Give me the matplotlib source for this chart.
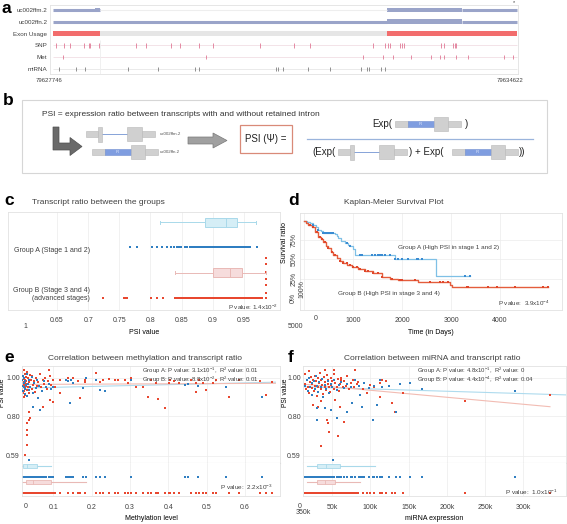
import numpy as np
import matplotlib.pyplot as plt
from matplotlib.patches import Rectangle, Polygon

plt.rcParams['font.family'] = ['Liberation Sans', 'DejaVu Sans']
plt.rcParams['mathtext.fontset'] = 'custom'
plt.rcParams['mathtext.rm'] = 'Liberation Sans'
plt.rcParams['text.color'] = '#404040'
plt.rcParams['xtick.color'] = '#404040'
plt.rcParams['ytick.color'] = '#404040'

W, H = 567, 524

# ---------------- panel a: gene tracks ----------------
gene_start = 79627746
gene_end = 79634622
track_labels = ['uc002ffm.2', 'uc002ffn.2', 'Exon Usage', 'SNP', 'Met', 'miRNA']
exon1 = (0, 697)
exon1_cds = (622, 697)
exon2_cds = (4950, 6061)
exon2 = (4950, 6876)
snp_pos = [44, 163, 252, 459, 534, 548, 682, 1230, 1378, 1749, 1882, 2164, 2371, 3068,
           3572, 3809, 4742, 4920, 4965, 4994, 5143, 5172, 5202, 5750, 5795, 5928, 5958, 5972]
met_pos = [148, 2267, 4594, 4891, 5039, 5306, 5602, 5735, 5795, 5972, 6150, 6684, 6818]
mirna_pos = [89, 341, 474, 1112, 1556, 2104, 2164, 3305, 3335, 3409, 3779, 4105, 4565,
             4653, 4683, 4861, 4920]

# ---------------- panel c: PSI by group ----------------
grpA_psi = [0.767, 0.778, 0.803, 0.811, 0.818, 0.826, 0.833, 0.838, 0.842, 0.846, 0.849,
            0.856, 0.859, 0.863, 0.866, 0.868, 0.872, 0.874, 0.877, 0.879, 0.881, 0.884,
            0.886, 0.888, 0.889, 0.891, 0.893, 0.895, 0.896, 0.898, 0.900, 0.901, 0.903,
            0.905, 0.906, 0.908, 0.909, 0.911, 0.913, 0.914, 0.916, 0.917, 0.919, 0.921,
            0.922, 0.924, 0.925, 0.927, 0.929, 0.930, 0.932, 0.934, 0.935, 0.937, 0.939,
            0.941, 0.943, 0.945, 0.948, 0.950, 0.953, 0.956, 0.959, 0.971]
grpB_psi = [0.724, 0.757, 0.760, 0.763, 0.801, 0.811, 0.820, 0.839, 0.842, 0.846, 0.849,
            0.852, 0.855, 0.858, 0.861, 0.864, 0.866, 0.869, 0.872, 0.875, 0.877, 0.879,
            0.882, 0.885, 0.887, 0.889, 0.891, 0.894, 0.896, 0.898, 0.900, 0.902, 0.904,
            0.906, 0.908, 0.910, 0.912, 0.914, 0.916, 0.918, 0.920, 0.922, 0.924, 0.926,
            0.928, 0.930, 0.932, 0.934, 0.936, 0.938, 0.940, 0.942, 0.944, 0.946, 0.948,
            0.951, 0.954, 0.957, 0.960, 0.963, 0.966, 0.969, 0.972, 0.975, 0.979, 0.985]
grpB_cap_y = [0.0, 0.2, 0.5, 0.75, 1.05, 1.35, 1.6]
boxA = dict(whislo=0.815, q1=0.887, med=0.921, q3=0.939, whishi=0.969)
boxB = dict(whislo=0.839, q1=0.900, med=0.927, q3=0.947, whishi=0.985)

# ---------------- panel d: Kaplan-Meier ----------------
kmA_t = [0, 60, 120, 190, 240, 292, 340, 395, 520, 633, 670, 701, 760, 837, 900, 939,
         990, 1041, 1857, 2687, 3388]
kmA_s = [1.0, 0.985, 0.97, 0.948, 0.92, 0.88, 0.865, 0.85, 0.845, 0.83, 0.80, 0.775,
         0.74, 0.71, 0.69, 0.675, 0.63, 0.56, 0.506, 0.286, 0.286]
kmA_cens = [190, 292, 395, 429, 463, 497, 531, 565, 599, 871, 939, 1143, 1190, 1381,
            1449, 1517, 1551, 1585, 1653, 1755, 1857, 1925, 1993, 2129, 2299, 2333,
            2401, 3286, 3388]
kmB_t = [0, 40, 80, 156, 220, 292, 340, 395, 450, 497, 550, 599, 667, 730, 803, 880,
         973, 1100, 1245, 1400, 1585, 1750, 1925, 2333, 2980, 3014, 4986]
kmB_s = [1.0, 0.97, 0.95, 0.926, 0.86, 0.796, 0.76, 0.73, 0.68, 0.645, 0.60, 0.558,
         0.515, 0.48, 0.45, 0.425, 0.407, 0.38, 0.355, 0.32, 0.277, 0.25, 0.234, 0.212,
         0.169, 0.139, 0.139]
kmB_cens = [122, 190, 258, 327, 361, 429, 497, 565, 633, 735, 803, 871, 939, 1007,
            1075, 1143, 1245, 1313, 1415, 1517, 1585, 1789, 1959, 1993, 2265, 2571,
            2776, 2844, 2946, 3320, 3354, 3762, 3932, 4306, 4884, 4986]

# ---------------- panel e: methylation vs PSI ----------------
eA_meth = [0.018, 0.019, 0.020, 0.021, 0.022, 0.023, 0.024, 0.025, 0.026, 0.027, 0.029,
           0.030, 0.031, 0.033, 0.035, 0.037, 0.040, 0.043, 0.046, 0.050, 0.054, 0.058,
           0.063, 0.069, 0.075, 0.082, 0.088, 0.094, 0.047, 0.060, 0.065, 0.100, 0.134,
           0.139, 0.143, 0.147, 0.152, 0.178, 0.186, 0.212, 0.221, 0.234, 0.304, 0.443,
           0.451, 0.477, 0.551, 0.646, 0.035]
eA_psi = [0.99, 0.96, 1.01, 0.93, 0.975, 0.95, 1.00, 0.915, 0.985, 0.94, 0.965, 1.02,
          0.905, 0.97, 0.99, 0.935, 0.955, 1.005, 0.92, 0.975, 0.945, 0.99, 0.96, 0.93,
          0.985, 0.95, 0.97, 0.94, 0.849, 0.893, 0.832, 0.954, 0.989, 0.985, 0.866, 0.99,
          0.975, 0.946, 0.998, 0.99, 0.937, 0.932, 0.989, 0.963, 0.97, 0.96, 0.954, 0.902,
          0.568]
eB_meth = [0.018, 0.018, 0.019, 0.019, 0.020, 0.020, 0.021, 0.021, 0.022, 0.022, 0.023,
           0.023, 0.024, 0.024, 0.025, 0.025, 0.026, 0.026, 0.027, 0.028, 0.028, 0.029,
           0.030, 0.031, 0.032, 0.033, 0.034, 0.035, 0.036, 0.038, 0.039, 0.041, 0.043,
           0.045, 0.047, 0.050, 0.052, 0.055, 0.058, 0.061, 0.065, 0.068, 0.072, 0.075,
           0.079, 0.083, 0.087, 0.091, 0.095, 0.100, 0.105,
           0.035, 0.038, 0.035, 0.030, 0.030, 0.032, 0.032, 0.026, 0.073, 0.091, 0.100,
           0.117, 0.169,
           0.089, 0.212, 0.117, 0.139, 0.182, 0.182, 0.221, 0.230, 0.260, 0.286, 0.304,
           0.317, 0.334, 0.347, 0.369, 0.373, 0.392, 0.403, 0.429, 0.460, 0.473, 0.473,
           0.490, 0.499, 0.516, 0.560, 0.655,
           0.150, 0.165, 0.245, 0.270, 0.295, 0.355, 0.405, 0.415, 0.480, 0.525, 0.585,
           0.640, 0.670]
eB_psi = [0.97, 1.03, 0.94, 0.99, 0.92, 1.01, 0.96, 0.98, 1.04, 0.95, 0.90, 0.995, 0.965,
          0.93, 1.02, 0.975, 0.945, 0.99, 0.91, 1.005, 0.96, 0.985, 0.935, 1.03, 0.97,
          0.95, 1.00, 0.92, 0.98, 1.015, 0.955, 0.99, 0.94, 1.01, 0.965, 0.985, 0.925,
          1.00, 0.96, 0.98, 1.02, 0.95, 0.99, 0.97, 1.00, 0.94, 0.985, 1.01, 0.965, 0.99,
          0.955,
          0.823, 0.788, 0.779, 0.761, 0.726, 0.700, 0.647, 0.595, 0.849, 0.884, 0.875,
          0.919, 0.893,
          1.042, 1.025, 0.989, 0.998, 0.989, 0.981, 0.981, 0.989, 0.989, 0.989, 0.998,
          0.954, 0.954, 0.902, 0.972, 0.888, 0.840, 0.972, 0.972, 0.989, 0.972, 0.928,
          0.972, 0.937, 0.972, 0.902, 0.911,
          1.0, 0.985, 0.995, 0.99, 0.975, 0.99, 0.99, 0.985, 0.99, 0.99, 0.99, 0.985, 0.98]
eA_fit_x, eA_fit_y = [0.018, 0.68], [0.947, 0.978]
eB_fit_x, eB_fit_y = [0.018, 0.68], [0.966, 0.972]
eA_box = dict(whislo=0.019, q1=0.021, med=0.030, q3=0.056, whishi=0.095)
eB_box = dict(whislo=0.019, q1=0.028, med=0.048, q3=0.095, whishi=0.185)

# ---------------- panel f: miRNA vs PSI ----------------
fA_mirna = [15, 17, 18, 20, 21, 23, 24, 26, 27, 29, 30, 32, 33, 35, 37, 38, 40, 42, 44,
            46, 48, 50, 53, 56, 59, 62, 66, 70, 75, 80, 85, 92, 98, 105,
            152, 167, 139, 104, 134, 108, 89, 69, 76, 86, 51, 30, 41, 49, 56, 30, 289,
            115, 125, 112]
fA_psi = [0.96, 0.99, 0.93, 1.00, 0.95, 0.975, 0.91, 0.985, 0.94, 1.01, 0.96, 0.925,
          0.98, 0.95, 0.995, 0.90, 0.965, 0.94, 0.985, 0.92, 0.97, 0.95, 0.99, 0.935,
          0.965, 0.98, 0.945, 0.97, 0.955, 0.99, 0.96, 0.975, 0.945, 0.96,
          0.972, 0.942, 0.967, 0.779, 0.823, 0.858, 0.849, 0.823, 0.866, 0.911, 0.568,
          0.840, 0.840, 0.832, 0.788, 0.779, 0.93, 0.95, 0.96, 0.99]
fB_mirna = [14, 15, 16, 17, 18, 19, 20, 21, 22, 23, 24, 25, 26, 27, 28, 29, 30, 31, 32,
            33, 34, 35, 36, 37, 38, 39, 40, 41, 42, 43, 44, 45, 46, 47, 48, 49, 50, 52,
            53, 54, 56, 57, 59, 60, 62, 64, 66, 68, 70, 72, 74, 77, 79, 82,
            41, 53, 80, 62, 84, 100, 113, 115, 143, 113, 128, 132, 224, 335, 43, 45, 65,
            46, 58, 36, 32, 54, 25, 35, 60, 90, 95, 105, 120]
fB_psi = [0.97, 1.02, 0.94, 0.99, 0.955, 1.035, 0.92, 0.98, 1.005, 0.945, 0.97, 0.99,
          0.93, 1.01, 0.96, 0.985, 0.905, 1.00, 0.95, 0.975, 1.025, 0.94, 0.99, 0.965,
          0.915, 1.005, 0.955, 0.98, 0.935, 1.015, 0.97, 0.99, 0.95, 0.925, 1.00, 0.965,
          0.985, 0.94, 1.02, 0.975, 0.955, 0.995, 0.93, 0.97, 1.00, 0.95, 0.985, 0.96,
          1.01, 0.94, 0.975, 0.99, 0.955, 0.97,
          1.042, 1.042, 1.042, 0.989, 0.981, 0.963, 0.972, 0.989, 0.919, 0.902, 0.866,
          0.823, 0.879, 0.911, 0.779, 0.761, 0.770, 0.717, 0.695, 0.642, 0.849, 0.884,
          0.86, 0.88, 0.85, 0.94, 0.92, 0.955, 0.985]
fA_fit_x, fA_fit_y = [14, 357], [0.953, 0.911]
fB_fit_x, fB_fit_y = [14, 335], [0.967, 0.849]
fA_box = dict(whislo=16.6, q1=29.7, med=42.0, q3=60.2, whishi=106.0)
fB_box = dict(whislo=16.6, q1=29.7, med=40.0, q3=53.7, whishi=86.4)

BLUE = '#2f7ec1'
RED = '#e8472f'
BLUE_BOX = ('#d5eef6', '#a9d9ea')
RED_BOX = ('#f6dcdc', '#e9b9b6')
GRID = '#ececec'
EDGE = '#e2e2e2'


def box(x0, y0, x1, y1):
    return [x0 / W, 1 - y1 / H, (x1 - x0) / W, (y1 - y0) / H]


fig = plt.figure(figsize=(W / 100, H / 100), dpi=100)
fig.patch.set_facecolor('white')


def light_frame(ax):
    for s in ax.spines.values():
        s.set_color(EDGE)
        s.set_linewidth(0.6)


# ---------------- panel a ----------------
ax_a = fig.add_axes(box(50, 5, 518, 74))
span = gene_end - gene_start
bp = span / (517 - 53)
ax_a.set_xlim(-3 * bp, span + 1 * bp)
ax_a.set_ylim(-0.42, 5.42)
light_frame(ax_a)
ax_a.set_xticks([])
ax_a.set_yticks([5, 4, 3, 2, 1, 0])
ax_a.set_yticklabels(track_labels, fontsize=4.5)
ax_a.tick_params(axis='y', length=0, pad=2)
tx = '#9aa4c9'
# uc002ffm.2
ax_a.hlines(5, 0, exon1[1], color=tx, lw=2.2)
ax_a.hlines(5, exon1[1], exon2[0], color='#eeeeee', lw=0.8)
ax_a.broken_barh([(exon1_cds[0], exon1_cds[1] - exon1_cds[0]),
                  (exon2_cds[0], exon2_cds[1] - exon2_cds[0])], (4.8, 0.4), facecolors=tx)
ax_a.hlines(5, exon2_cds[1], gene_end - gene_start, color=tx, lw=2.2)
# uc002ffn.2
ax_a.hlines(4, 0, exon2[0], color=tx, lw=2.2)
ax_a.broken_barh([(exon2_cds[0], exon2_cds[1] - exon2_cds[0])], (3.8, 0.4), facecolors=tx)
ax_a.hlines(4, exon2_cds[1], gene_end - gene_start, color=tx, lw=2.2)
# exon usage
ax_a.broken_barh([(exon1[1], exon2[0] - exon1[1])], (2.78, 0.44), facecolors='#e6e6e6')
ax_a.broken_barh([(exon1[0], exon1[1] - exon1[0]), (exon2[0], exon2[1] - exon2[0])],
                 (2.78, 0.44), facecolors='#f26d6d')
# features
ax_a.hlines([2, 1], 0, span, color='#efd7de', lw=0.5)
ax_a.hlines(0, 0, span, color='#e2e2e2', lw=0.5)
ax_a.vlines(exon1[1], -0.4, 2.5, color='#eeeeee', lw=0.6)
ax_a.vlines(snp_pos, 1.82, 2.18, color='#e07895', lw=0.6)
ax_a.vlines(met_pos, 0.82, 1.18, color='#e07895', lw=0.6)
ax_a.vlines(mirna_pos, -0.2, 0.2, color='#8f8f8f', lw=0.7)

# ---------------- panel c ----------------
ax_c = fig.add_axes(box(8, 212, 280, 310))
ax_c.set_xlim(0.5714, 1.0078)
ax_c.set_ylim(-0.47, 3.4)
light_frame(ax_c)
c_ticks = [0.65, 0.7, 0.75, 0.8, 0.85, 0.9, 0.95]
ax_c.set_xticks(c_ticks)
ax_c.set_xticklabels(['0.65', '0.7', '0.75', '0.8', '0.85', '0.9', '0.95'], fontsize=5)
ax_c.tick_params(axis='x', length=0, pad=5)
ax_c.set_yticks([])
for t in c_ticks:
    ax_c.axvline(t, color=GRID, lw=0.5, zorder=0)
ax_c.set_xlabel('PSI value', fontsize=5, labelpad=4)
ax_c.scatter(grpA_psi, np.full(len(grpA_psi), 2.0), s=2, marker='s', color=BLUE, lw=0)
ax_c.scatter(grpB_psi, np.zeros(len(grpB_psi)), s=2, marker='s', color=RED, lw=0)
ax_c.scatter(np.full(len(grpB_cap_y), boxB['whishi']), grpB_cap_y, s=2, marker='s',
             color=RED, lw=0)
for st, pos, (fc, ec) in [(boxA, 3.0, BLUE_BOX), (boxB, 1.0, RED_BOX)]:
    ax_c.bxp([st], positions=[pos], widths=0.36, orientation='horizontal',
             patch_artist=True, showfliers=False,
             boxprops=dict(facecolor=fc, edgecolor=ec, lw=0.7),
             whiskerprops=dict(color=ec, lw=0.7), capprops=dict(color=ec, lw=0.7),
             capwidths=0.12, medianprops=dict(color=ec, lw=0.7), manage_ticks=False)

# ---------------- panel d ----------------
ax_d = fig.add_axes(box(300, 213, 562, 310))
ax_d.set_xlim(-82, 5265)
ax_d.set_ylim(-0.156, 1.104)
light_frame(ax_d)
ax_d.set_xticks([1000, 2000, 3000, 4000])
ax_d.set_xticklabels(['1000', '2000', '3000', '4000'], fontsize=5)
ax_d.set_yticks([0, 0.25, 0.5, 0.75])
ax_d.set_yticklabels(['0%', '25%', '50%', '75%'], fontsize=5, rotation=90, va='center')
ax_d.tick_params(length=0, pad=5)
ax_d.tick_params(axis='y', pad=2)
for t in [0, 1000, 2000, 3000, 4000]:
    ax_d.axvline(t, color=GRID, lw=0.5, zorder=0)
for t in [0.25, 0.5, 0.75]:
    ax_d.axhline(t, color=GRID, lw=0.5, zorder=0)
ax_d.set_xlabel('Time (in Days)', fontsize=5, labelpad=4)
ax_d.set_ylabel('Survival ratio', fontsize=5, labelpad=1)
ax_d.yaxis.set_label_coords(-0.045, 0.7)


def surv_at(times, surv, t):
    idx = np.searchsorted(times, t, side='right') - 1
    return np.asarray(surv)[idx]


ax_d.step(kmA_t, kmA_s, where='post', color='#7fc0e6', lw=0.9)
ax_d.step(kmB_t, kmB_s, where='post', color='#e45d3c', lw=1.0)
ax_d.scatter(kmA_cens, surv_at(kmA_t, kmA_s, kmA_cens), s=3, marker='s', color='#3a8bd2',
             lw=0, zorder=3)
ax_d.scatter(kmB_cens, surv_at(kmB_t, kmB_s, kmB_cens), s=3, marker='s', color='#e0462a',
             lw=0, zorder=3)


# ---------------- panels e & f ----------------
def corr_panel(x0, x1, xlim, xticks, xticklabels, xlabel, ylabel_x, a_x, a_y, b_x, b_y,
               a_fit, b_fit, a_box, b_box):
    top = fig.add_axes(box(x0, 366, x1, 463))
    bot = fig.add_axes(box(x0, 463, x1, 496))
    for ax in (top, bot):
        ax.set_xlim(*xlim)
        light_frame(ax)
        for t in xticks:
            ax.axvline(t, color=GRID, lw=0.5, zorder=0)
    top.spines['bottom'].set_color('#c9c9c9')
    top.spines['bottom'].set_linewidth(0.8)
    bot.spines['top'].set_visible(False)
    top.set_ylim(0.553, 1.063)
    top.set_yticks([0.59, 0.80, 1.00])
    top.set_yticklabels(['0.59', '0.80', '1.00'], fontsize=5)
    top.set_xticks([])
    top.tick_params(length=0, pad=1.5)
    for t in [0.59, 0.80, 1.00]:
        top.axhline(t, color=GRID, lw=0.5, zorder=0)
    top.set_ylabel('PSI value', fontsize=4.8)
    top.yaxis.set_label_coords((ylabel_x - x0) / (x1 - x0), 0.72)
    top.plot(*a_fit, color='#aedbee', lw=0.8, zorder=1)
    top.plot(*b_fit, color='#f2bcb3', lw=0.8, zorder=1)
    top.scatter(a_x, a_y, s=3.2, marker='s', color=BLUE, lw=0, zorder=3)
    top.scatter(b_x, b_y, s=3.2, marker='s', color=RED, lw=0, zorder=2)

    bot.set_ylim(-0.27, 2.73)
    bot.set_yticks([])
    bot.set_xticks(xticks)
    bot.set_xticklabels(xticklabels, fontsize=5)
    bot.tick_params(length=0, pad=6)
    bot.set_xlabel(xlabel, fontsize=5, labelpad=3)
    bot.scatter(a_x, np.full(len(a_x), 1.45), s=2, marker='s', color=BLUE, lw=0)
    bot.scatter(b_x, np.zeros(len(b_x)), s=2, marker='s', color=RED, lw=0)
    for st, pos, (fc, ec) in [(a_box, 2.45, BLUE_BOX), (b_box, 1.0, RED_BOX)]:
        bot.bxp([st], positions=[pos], widths=0.4, orientation='horizontal',
                patch_artist=True, showfliers=False, showcaps=False,
                boxprops=dict(facecolor=fc, edgecolor=ec, lw=0.6),
                whiskerprops=dict(color=ec, lw=0.8),
                medianprops=dict(color=ec, lw=0.6), manage_ticks=False)
    return top, bot


corr_panel(22, 280, (0.018, 0.692), [0.1, 0.2, 0.3, 0.4, 0.5, 0.6],
           ['0.1', '0.2', '0.3', '0.4', '0.5', '0.6'], 'Methylation level', 6,
           eA_meth, eA_psi, eB_meth, eB_psi, (eA_fit_x, eA_fit_y), (eB_fit_x, eB_fit_y),
           eA_box, eB_box)
corr_panel(303, 566, (11.8, 356), [50, 100, 150, 200, 250, 300],
           ['50k', '100k', '150k', '200k', '250k', '300k'], 'miRNA expression', 289,
           fA_mirna, fA_psi, fB_mirna, fB_psi, (fA_fit_x, fA_fit_y), (fB_fit_x, fB_fit_y),
           fA_box, fB_box)

# ---------------- overlay: labels, panel b schematic ----------------
cv = fig.add_axes([0, 0, 1, 1])
cv.set_xlim(0, W)
cv.set_ylim(H, 0)
cv.axis('off')
cv.set_zorder(10)

for lab, x, y in [('a', 2, 13), ('b', 3, 105), ('c', 4, 205), ('d', 288, 205),
                  ('e', 4, 362), ('f', 288, 362)]:
    cv.text(x, y, lab, fontsize=12.5, fontweight='bold', color='black', va='baseline')

# panel a extra labels
cv.text(49, 80, str(gene_start), fontsize=4.3, ha='center', va='center')
cv.text(510, 80, str(gene_end), fontsize=4.3, ha='center', va='center')
cv.text(514, 2.5, '*', fontsize=4, ha='center', va='center')

# panel b
cv.add_patch(Rectangle((22, 100), 525, 73, facecolor='white', edgecolor='#d6d6d6', lw=0.8))
cv.text(42, 114, 'PSI = expression ratio between transcripts with and without retained intron',
        fontsize=6, va='center', color='#333333')
G_FC, G_EC = '#d0d0d0', '#b8b8b8'
IR_FC = '#7f9de0'
LINE_C = '#86a3d8'


def seg(x0, x1, y, half):
    cv.add_patch(Rectangle((x0, y - half), x1 - x0, 2 * half, facecolor=G_FC,
                           edgecolor=G_EC, lw=0.4, zorder=3))


def ir_glyph(x0, y):
    seg(x0, x0 + 13, y, 3)
    cv.add_patch(Rectangle((x0 + 13, y - 3), 26, 6, facecolor=IR_FC, edgecolor='#6f8dd0',
                           lw=0.4, zorder=3))
    cv.text(x0 + 26, y, 'IR', fontsize=3, color='#e8eefc', ha='center', va='center', zorder=4)
    seg(x0 + 39, x0 + 53, y, 7)
    seg(x0 + 53, x0 + 66, y, 3)


def spliced_glyph(x0, y):
    seg(x0, x0 + 12, y, 3)
    seg(x0 + 12, x0 + 16, y, 7.5)
    cv.plot([x0 + 16, x0 + 41], [y, y], color=LINE_C, lw=0.7, zorder=2)
    seg(x0 + 41, x0 + 56, y, 7)
    seg(x0 + 56, x0 + 69, y, 3)


cv.add_patch(Polygon([(53, 127), (59, 127), (59, 143), (70, 143), (70, 137.5), (82, 146.5),
                      (70, 155.5), (70, 150), (53, 150)], closed=True,
                     facecolor='#6a6a6a', edgecolor='#505050', lw=0.5))
spliced_glyph(86, 134)
ir_glyph(92, 152)
cv.text(160, 134, 'uc002ffm.2', fontsize=3.2, va='center', color='#555555')
cv.text(160, 152, 'uc002ffn.2', fontsize=3.2, va='center', color='#555555')
cv.add_patch(Polygon([(188, 137), (213, 137), (213, 133), (227, 140.5), (213, 148),
                      (213, 144), (188, 144)], closed=True,
                     facecolor='#a0a0a0', edgecolor='#7a7a7a', lw=0.5))
cv.add_patch(Rectangle((240, 125), 52, 28, facecolor='white', edgecolor='#d98a78', lw=0.9))
cv.text(266, 139.5, 'PSI (\u03a8) =', fontsize=7, ha='center', va='center', color='#222222')
cv.plot([307, 533], [139, 139], color='#9ab4dc', lw=0.9)
cv.text(392, 124, 'Exp(', fontsize=7, ha='right', va='center', color='#222222')
ir_glyph(395, 124)
cv.text(465, 124, ')', fontsize=7, va='center', color='#222222')
cv.text(336, 152, '(Exp(', fontsize=7, ha='right', va='center', color='#222222')
spliced_glyph(338, 152)
cv.text(409, 152, ') + Exp(', fontsize=7, va='center', color='#222222')
ir_glyph(452, 152)
cv.text(519, 152, '))', fontsize=7, va='center', color='#222222')

# panel c texts
cv.text(32, 203, 'Transcript ratio between the groups', fontsize=6, va='center')
cv.text(90, 250, 'Group A (Stage 1 and 2)', fontsize=5, ha='right', va='center')
cv.text(90, 290, 'Group B (Stage 3 and 4)', fontsize=5, ha='right', va='center')
cv.text(90, 299, '(advanced stages)', fontsize=5, ha='right', va='center')
cv.text(278, 307, r'P value: 1.4x10$^{-2}$', fontsize=4.5, ha='right', va='center')
cv.text(25, 326, '1', fontsize=5, ha='center', va='center')

# panel d texts
cv.text(344, 203, 'Kaplan-Meier Survival Plot', fontsize=6, va='center')
cv.text(398, 247, 'Group A (High PSI in stage 1 and 2)', fontsize=4.6, va='center')
cv.text(338, 293, 'Group B (High PSI in stage 3 and 4)', fontsize=4.6, va='center')
cv.text(498, 303, r'P value:  3.9x10$^{-4}$', fontsize=4.5, va='center')
cv.text(316, 319, '0', fontsize=5, ha='center', va='center')
cv.text(302, 289, '100%', fontsize=5, rotation=90, ha='center', va='center')
cv.text(295, 326, '5000', fontsize=5, ha='center', va='center')

# panel e texts
cv.text(48, 359, 'Correlation between methylation and transcript ratio', fontsize=6,
        va='center')
cv.text(142, 371, r'Group A: P value: 3.1x10$^{-1}$,  R$^{2}$ value: 0.01', fontsize=4.3,
        va='center')
cv.text(142, 380, r'Group B: P value: 8.8x10$^{-2}$,  R$^{2}$ value: 0.01', fontsize=4.3,
        va='center')
cv.text(273, 487, r'P value:  2.2x10$^{-3}$', fontsize=4.6, ha='right', va='center')
cv.text(26, 506, '0', fontsize=5, ha='center', va='center')

# panel f texts
cv.text(344, 359, 'Correlation between miRNA and transcript ratio', fontsize=6, va='center')
cv.text(417, 371, r'Group A: P value: 4.8x10$^{-1}$,  R$^{2}$ value: 0', fontsize=4.3,
        va='center')
cv.text(417, 380, r'Group B: P value: 4.4x10$^{-4}$,  R$^{2}$ value: 0.04', fontsize=4.3,
        va='center')
cv.text(558, 492, r'P value:  1.0x10$^{-1}$', fontsize=4.6, ha='right', va='center')
cv.text(300, 506, '0', fontsize=5, ha='center', va='center')
cv.text(303, 513, '350k', fontsize=5, ha='center', va='center')

fig.savefig('out.png', dpi=100, facecolor='white')
